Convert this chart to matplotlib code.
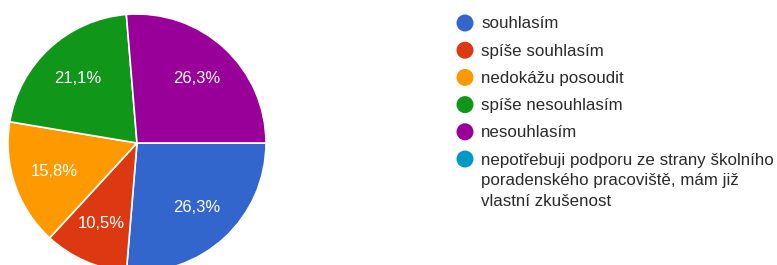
import matplotlib
matplotlib.use('Agg')
import matplotlib.pyplot as plt

plt.rcParams['font.family'] = ['Liberation Sans', 'DejaVu Sans']

labels = ['souhlasím', 'spíše souhlasím', 'nedokážu posoudit',
          'spíše nesouhlasím', 'nesouhlasím',
          'nepotřebuji podporu ze strany školního\nporadenského pracoviště, mám již\nvlastní zkušenost']
counts = [5, 2, 3, 4, 5, 0]
colors = ['#3366cc', '#dc3912', '#ff9900', '#109618', '#990099', '#0099c6']

W, H = 777, 265
fig = plt.figure(figsize=(W / 100, H / 100), dpi=100)

# pie, centre at (137, 143) px, radius 129 px
cx, cy, r = 137, 143, 129
ax = fig.add_axes([(cx - r) / W, (H - cy - r) / H, 2 * r / W, 2 * r / H])
vals = [c for c in counts if c > 0]
cols = [col for c, col in zip(counts, colors) if c > 0]
wedges, texts, autotexts = ax.pie(
    vals, colors=cols, startangle=0, counterclock=False, radius=1,
    autopct=lambda p: f'{p:.1f}%'.replace('.', ','), pctdistance=0.68,
    wedgeprops=dict(edgecolor='white', linewidth=1.2),
    textprops=dict(color='white', fontsize=12))
ax.set_xlim(-1, 1)
ax.set_ylim(-1, 1)
ax.axis('off')

# legend drawn in pixel coordinates
lg = fig.add_axes([0, 0, 1, 1], zorder=-1)
lg.set_xlim(0, W)
lg.set_ylim(H, 0)
lg.axis('off')
for i, (lab, col) in enumerate(zip(labels, colors)):
    y = 23 + i * 27.2
    lg.scatter([465], [y], s=150, color=col, edgecolors='none')
    # one text per line so the first line sits level with the dot
    for k, line in enumerate(lab.split('\n')):
        lg.text(481, y + 5.5 + k * 21, line, fontsize=12.2, color='#2a2a2a',
                va='baseline')

fig.savefig('out.png', dpi=100, facecolor='white')
